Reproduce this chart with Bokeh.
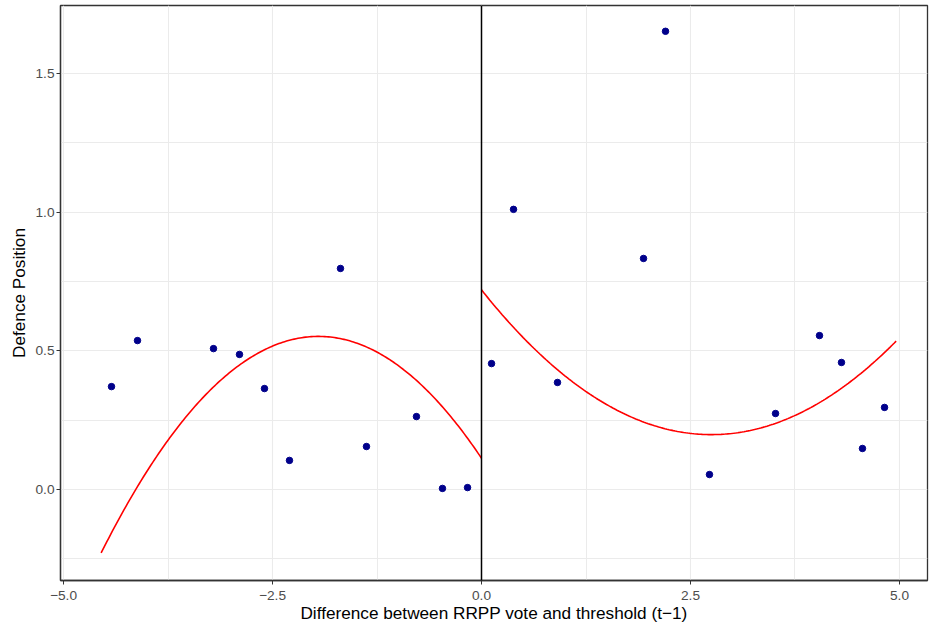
import numpy as np
from bokeh.plotting import figure
from bokeh.models import FixedTicker, Span, ColumnDataSource
from bokeh.embed import file_html
from bokeh.resources import INLINE

# Binned means
x_left = [-4.426, -4.115, -3.206, -2.895, -2.596, -2.297, -1.687, -1.376, -0.778, -0.467, -0.167]
y_left = [0.371, 0.537, 0.508, 0.487, 0.364, 0.105, 0.797, 0.155, 0.263, 0.004, 0.007]
x_right = [0.120, 0.383, 0.909, 1.938, 2.201, 2.727, 3.517, 4.043, 4.306, 4.557, 4.821]
y_right = [0.454, 1.010, 0.386, 0.833, 1.652, 0.054, 0.274, 0.555, 0.458, 0.148, 0.296]

# Quadratic fits: y = a*(x - h)^2 + k, over [x_from, x_to]
fit_left = dict(a=-0.1155, h=-1.95, k=0.552, x_from=-4.55, x_to=0.0)
fit_right = dict(a=0.069, h=2.75, k=0.198, x_from=0.0, x_to=4.96)

threshold = 0.0

x_ticks = [-5.0, -2.5, 0.0, 2.5, 5.0]
x_tick_labels = ["\u22125.0", "\u22122.5", "0.0", "2.5", "5.0"]
x_minor = [-3.75, -1.25, 1.25, 3.75]
y_ticks = [0.0, 0.5, 1.0, 1.5]
y_tick_labels = ["0.0", "0.5", "1.0", "1.5"]
y_minor = [-0.25, 0.25, 0.75, 1.25, 1.75]

FONT = "Liberation Sans"
GRID = "#EBEBEB"
DARK = "#333333"

p = figure(frame_width=867, frame_height=575,
           x_range=(-5.036, 5.335), y_range=(-0.328, 1.745),
           output_backend="svg", toolbar_location=None,
           min_border_left=60, min_border_right=2, min_border_top=5, min_border_bottom=47)

p.background_fill_color = "white"
p.border_fill_color = "white"
p.outline_line_color = DARK
p.outline_line_width = 1.3

p.xaxis.ticker = FixedTicker(ticks=x_ticks, minor_ticks=x_minor)
p.yaxis.ticker = FixedTicker(ticks=y_ticks, minor_ticks=y_minor)
p.xaxis.major_label_overrides = {t: l for t, l in zip(x_ticks, x_tick_labels)}
p.yaxis.major_label_overrides = {t: l for t, l in zip(y_ticks, y_tick_labels)}

for g in (p.xgrid, p.ygrid):
    g.grid_line_color = GRID
    g.grid_line_width = 1.1
    g.minor_grid_line_color = GRID
    g.minor_grid_line_width = 1.0

for ax in (p.xaxis, p.yaxis):
    ax.axis_line_color = DARK
    ax.axis_line_width = 1.3
    ax.major_tick_line_color = DARK
    ax.major_tick_out = 4
    ax.major_tick_in = 0
    ax.minor_tick_line_color = None
    ax.major_label_text_font = FONT
    ax.major_label_text_font_size = "13.7px"
    ax.major_label_text_color = "#4D4D4D"
    ax.axis_label_text_font = FONT
    ax.axis_label_text_font_size = "17.2px"
    ax.axis_label_text_font_style = "normal"
    ax.axis_label_text_color = "black"

p.xaxis.major_label_standoff = 6
p.xaxis.axis_label_standoff = 0
p.yaxis.major_label_standoff = 2
p.yaxis.axis_label_standoff = 3

p.xaxis.axis_label = "Difference between RRPP vote and threshold (t\u22121)"
p.yaxis.axis_label = "Defence Position"

def fit_curve(f):
    xs = np.linspace(f["x_from"], f["x_to"], 200)
    ys = f["a"] * (xs - f["h"]) ** 2 + f["k"]
    return xs, ys

for f in (fit_left, fit_right):
    xs, ys = fit_curve(f)
    p.line(xs, ys, line_color="#FF0000", line_width=1.6)

p.add_layout(Span(location=threshold, dimension="height", line_color="black", line_width=1.5))

src = ColumnDataSource(data=dict(x=x_left + x_right, y=y_left + y_right))
p.scatter("x", "y", source=src, size=6.5, fill_color="#00008B", line_color="#00008B")

open("out.html", "w").write(file_html(p, INLINE))
